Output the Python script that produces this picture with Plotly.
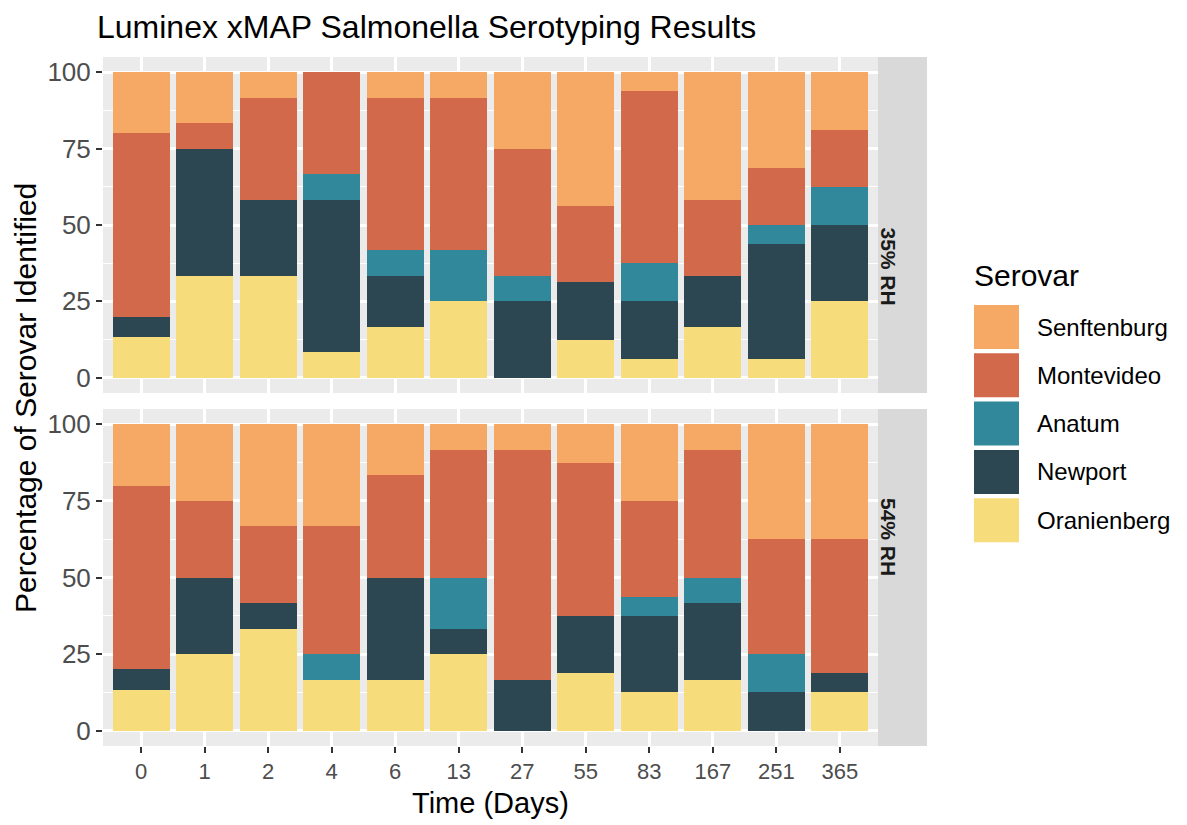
import plotly.graph_objects as go
from plotly.subplots import make_subplots

# Data (percent of isolates per serovar)
days = ["0", "1", "2", "4", "6", "13", "27", "55", "83", "167", "251", "365"]
serovars = ["Senftenburg", "Montevideo", "Anatum", "Newport", "Oranienberg"]
colors = ["#F5A965", "#D2694B", "#30889A", "#2C4752", "#F6DC7A"]
facets = ["35% RH", "54% RH"]

oran_35 = [13.33, 33.33, 33.33, 8.33, 16.67, 25, 0, 12.5, 6.25, 16.67, 6.25, 25]
newport_35 = [6.67, 41.67, 25, 50, 16.67, 0, 25, 18.75, 18.75, 16.67, 37.5, 25]
anatum_35 = [0, 0, 0, 8.33, 8.33, 16.67, 8.33, 0, 12.5, 0, 6.25, 12.5]
monte_35 = [60, 8.33, 33.33, 33.33, 50, 50, 41.67, 25, 56.25, 25, 18.75, 18.75]
senf_35 = [20, 16.67, 8.33, 0, 8.33, 8.33, 25, 43.75, 6.25, 41.67, 31.25, 18.75]

oran_54 = [13.33, 25, 33.33, 16.67, 16.67, 25, 0, 18.75, 12.5, 16.67, 0, 12.5]
newport_54 = [6.67, 25, 8.33, 0, 33.33, 8.33, 16.67, 18.75, 25, 25, 12.5, 6.25]
anatum_54 = [0, 0, 0, 8.33, 0, 16.67, 0, 0, 6.25, 8.33, 12.5, 0]
monte_54 = [60, 25, 25, 41.67, 33.33, 41.67, 75, 50, 31.25, 41.67, 37.5, 43.75]
senf_54 = [20, 25, 33.33, 33.33, 16.67, 8.33, 8.33, 12.5, 25, 8.33, 37.5, 37.5]

panel_data = [
    {"Senftenburg": senf_35, "Montevideo": monte_35, "Anatum": anatum_35,
     "Newport": newport_35, "Oranienberg": oran_35},
    {"Senftenburg": senf_54, "Montevideo": monte_54, "Anatum": anatum_54,
     "Newport": newport_54, "Oranienberg": oran_54},
]

FONT = "Liberation Sans, Arial, Helvetica, sans-serif"
OFF = 8                      # page body margin of the browser
W, H = 1187 - OFF, 825 - OFF
L, R, T, B = 103 - OFF, 927 - OFF, 57 - OFF, 746 - OFF   # plot area incl. strips
PANEL_R = 878 - OFF


def px(x):
    # x given in reference-image pixels
    return (x - OFF - L) / (R - L)


def py(y):
    return (B - (y - OFF)) / (B - T)


fig = make_subplots(rows=2, cols=1, shared_xaxes=True)

# stack from the bottom: Oranienberg first, Senftenburg last
for row, data in enumerate(panel_data, start=1):
    for name, col in reversed(list(zip(serovars, colors))):
        fig.add_trace(go.Bar(
            x=days, y=data[name], name=name,
            marker=dict(color=col, line=dict(width=0)),
            showlegend=False,
        ), row=row, col=1)

fig.update_layout(
    barmode="stack",
    bargap=0.1,
    width=W, height=H,
    margin=dict(l=L, r=W - R, t=T, b=H - B, autoexpand=False),
    paper_bgcolor="white",
    plot_bgcolor="#EBEBEB",
    font=dict(family=FONT, color="black"),
    title=dict(text="Luminex xMAP Salmonella Serotyping Results",
               x=(97 - OFF) / W, xanchor="left", y=1 - (27 - OFF) / H,
               yanchor="middle", font=dict(size=32, color="black")),
)

top_dom = [py(393), 1]
bot_dom = [0, py(409)]
fig.update_xaxes(domain=[0, (PANEL_R - L) / (R - L)], range=[-0.6, 11.6],
                 automargin=False, showgrid=True, gridcolor="white",
                 gridwidth=2.5, zeroline=False, showline=False)
fig.update_xaxes(showticklabels=False, ticks="", row=1, col=1)
fig.update_xaxes(ticks="outside", ticklen=6, tickwidth=2, tickcolor="#333333",
                 tickfont=dict(size=22, color="#4D4D4D"), row=2, col=1)
fig.update_yaxes(range=[-5, 105], tickvals=[0, 25, 50, 75, 100], automargin=False,
                 ticks="outside", ticklen=6, tickwidth=2, tickcolor="#333333",
                 tickfont=dict(size=26, color="#4D4D4D"),
                 showgrid=True, gridcolor="white", gridwidth=2.5,
                 minor=dict(tickvals=[12.5, 37.5, 62.5, 87.5], showgrid=True,
                            gridcolor="white", gridwidth=1.2, ticks=""),
                 zeroline=False, showline=False)
fig.update_yaxes(domain=top_dom, row=1, col=1)
fig.update_yaxes(domain=bot_dom, row=2, col=1)

shapes = []
annotations = []

# facet strips
for label, dom in zip(facets, [top_dom, bot_dom]):
    shapes.append(dict(type="rect", xref="paper", yref="paper",
                       x0=(PANEL_R - L) / (R - L), x1=1, y0=dom[0], y1=dom[1],
                       fillcolor="#D9D9D9", line=dict(width=0), layer="below"))
    annotations.append(dict(text="<b>%s</b>" % label, xref="paper", yref="paper",
                            x=px(902), y=(dom[0] + dom[1]) / 2, showarrow=False,
                            textangle=90, font=dict(size=21, color="#1A1A1A")))

# axis titles
annotations.append(dict(text="Time (Days)", xref="paper", yref="paper",
                        x=px(490), y=py(803), showarrow=False,
                        xanchor="center", yanchor="middle",
                        font=dict(size=29, color="black")))
annotations.append(dict(text="Percentage of Serovar Identified", xref="paper",
                        yref="paper", x=px(25), y=py(398), showarrow=False,
                        textangle=-90, xanchor="center", yanchor="middle",
                        font=dict(size=30, color="black")))

# legend drawn by hand (ggplot-style large keys)
annotations.append(dict(text="Serovar", xref="paper", yref="paper",
                        x=px(972), y=py(275), showarrow=False,
                        xanchor="left", yanchor="middle",
                        font=dict(size=30, color="black")))
for i, (name, col) in enumerate(zip(serovars, colors)):
    cy = 327 + 48.3 * i
    shapes.append(dict(type="rect", xref="paper", yref="paper",
                       x0=px(974), x1=px(1019), y0=py(cy + 22), y1=py(cy - 22),
                       fillcolor=col, line=dict(width=0)))
    annotations.append(dict(text=name, xref="paper", yref="paper",
                            x=px(1035), y=py(cy), showarrow=False,
                            xanchor="left", yanchor="middle",
                            font=dict(size=24, color="black")))

fig.update_layout(shapes=shapes, annotations=annotations)

fig.write_html("out.html")
